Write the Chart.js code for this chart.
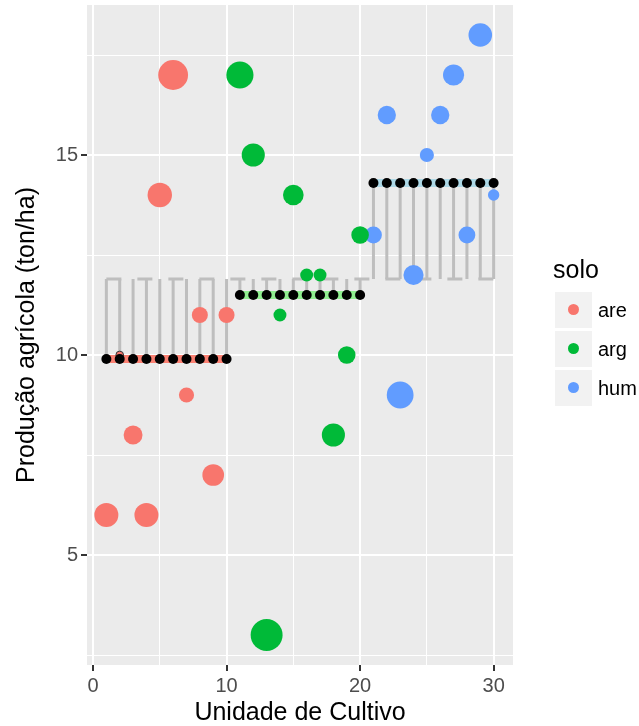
<!DOCTYPE html>
<html>
<head>
<meta charset="utf-8">
<script src="https://cdn.jsdelivr.net/npm/chart.js@4.4.1/dist/chart.umd.min.js"></script>
<style>
  html, body { margin: 0; padding: 0; background: #fff; }
  #wrap { position: relative; width: 639px; height: 726px; font-family: "Liberation Sans", Arial, sans-serif; }
  #legend { position: absolute; left: 553px; top: 254px; }
  #legend .title { font-size: 25px; color: #000; height: 38px; line-height: 30px; }
  #legend .row { position: relative; height: 36px; margin-bottom: 3px; }
  #legend .key { position: absolute; left: 2px; top: 0; width: 37px; height: 36px; background: #F2F2F2; }
  #legend .dot { position: absolute; left: 13px; top: 12px; width: 11px; height: 11px; border-radius: 50%; }
  #legend .lab { position: absolute; left: 45px; top: 0; line-height: 36px; font-size: 20px; color: #000; }
</style>
</head>
<body>
<div id="wrap">
  <canvas id="c" width="639" height="726"></canvas>
  <div id="legend"></div>
</div>
<script>
// ---- data ----
const unidade = [1,2,3,4,5,6,7,8,9,10,11,12,13,14,15,16,17,18,19,20,21,22,23,24,25,26,27,28,29,30];
const solo = ['are','are','are','are','are','are','are','are','are','are',
              'arg','arg','arg','arg','arg','arg','arg','arg','arg','arg',
              'hum','hum','hum','hum','hum','hum','hum','hum','hum','hum'];
const producao = [6,10,8,6,14,17,9,11,7,11,
                  17,15,3,11,14,12,12,8,10,13,
                  13,16,9,12,15,16,17,13,18,14];
const niveis = ['are','arg','hum'];
const cores = ['#F8766D','#00BA38','#619CFF'];
const coresFaixa = ['#FA8072','#90EE90','#ADD8E6'];
const xTicks = [0,10,20,30];
const yTicks = [5,10,15];
const xLabel = 'Unidade de Cultivo';
const yLabel = 'Produção agrícola (ton/ha)';
const legendTitle = 'solo';

// ---- derived ----
const mediaGrupo = {};
niveis.forEach(n => {
  const v = producao.filter((_, i) => solo[i] === n);
  mediaGrupo[n] = v.reduce((a, b) => a + b, 0) / v.length;
});
const mediaGeral = producao.reduce((a, b) => a + b, 0) / producao.length;
const desvios = producao.map((y, i) => Math.abs(y - mediaGrupo[solo[i]]));
const dMin = Math.min(...desvios), dMax = Math.max(...desvios);
function raio(d) {
  const s = 1 + 5 * Math.sqrt((d - dMin) / (dMax - dMin));
  return 1.4 + 2.43 * s;
}
const minor = (arr) => {
  const out = [];
  const step = arr[1] - arr[0];
  for (let i = 0; i < arr.length; i++) {
    out.push(arr[i]);
    if (i < arr.length - 1) out.push(arr[i] + step / 2);
  }
  out.unshift(arr[0] - step / 2);
  out.push(arr[arr.length - 1] + step / 2);
  return out;
};
const xAll = minor(xTicks), yAll = minor(yTicks);

const datasets = [];
// mean points (top)
datasets.push({
  type: 'scatter',
  data: unidade.map((x, i) => ({ x, y: mediaGrupo[solo[i]] })),
  pointRadius: 5, pointHoverRadius: 5,
  backgroundColor: '#000', borderColor: '#000', borderWidth: 0,
  order: 0
});
// data points by group
niveis.forEach((n, k) => {
  const idx = unidade.map((_, i) => i).filter(i => solo[i] === n);
  datasets.push({
    type: 'scatter',
    data: idx.map(i => ({ x: unidade[i], y: producao[i], d: desvios[i] })),
    pointRadius: ctx => raio(ctx.raw.d),
    pointHoverRadius: ctx => raio(ctx.raw.d),
    backgroundColor: cores[k],
    borderColor: ctx => (ctx.raw && ctx.raw.d === dMin) ? '#333' : cores[k],
    borderWidth: ctx => (ctx.raw && ctx.raw.d === dMin) ? 1 : 0,
    order: 1 + k
  });
});
// colored mean bands
niveis.forEach((n, k) => {
  const xs = unidade.filter((_, i) => solo[i] === n);
  datasets.push({
    type: 'line', showLine: true,
    data: [{ x: Math.min(...xs), y: mediaGrupo[n] }, { x: Math.max(...xs), y: mediaGrupo[n] }],
    borderColor: coresFaixa[k], borderWidth: 8, pointRadius: 0, borderCapStyle: 'butt',
    order: 4
  });
});
// dashed overall mean
datasets.push({
  type: 'line', showLine: true,
  data: [{ x: Math.min(...unidade), y: mediaGeral }, { x: Math.max(...unidade), y: mediaGeral }],
  borderColor: '#BEBEBE', borderWidth: 3, borderDash: [15, 16], pointRadius: 0, borderCapStyle: 'butt',
  order: 7
});
// vertical segments group mean -> overall mean
const seg = [];
unidade.forEach((x, i) => {
  seg.push({ x, y: mediaGrupo[solo[i]] });
  seg.push({ x, y: mediaGeral });
  seg.push({ x, y: null });
});
datasets.push({
  type: 'line', showLine: true, spanGaps: false,
  data: seg,
  borderColor: '#BEBEBE', borderWidth: 3, pointRadius: 0, borderCapStyle: 'butt',
  order: 8
});

const bgPlugin = {
  id: 'bg',
  beforeDraw(chart) {
    const { ctx, chartArea: a } = chart;
    ctx.save();
    ctx.fillStyle = '#fff';
    ctx.fillRect(0, 0, chart.width, chart.height);
    ctx.fillStyle = '#EBEBEB';
    ctx.fillRect(a.left, a.top, a.right - a.left, a.bottom - a.top);
    ctx.restore();
  }
};

const FONT = '"Liberation Sans", Arial, sans-serif';
function axisCommon(all, major, titleText, titlePad, tickLH) {
  return {
    type: 'linear',
    afterBuildTicks: s => { s.ticks = all.map(v => ({ value: v })); },
    grid: {
      color: '#FFFFFF',
      lineWidth: ctx => (ctx.tick && major.includes(ctx.tick.value)) ? 2 : 1,
      tickColor: ctx => (ctx.tick && major.includes(ctx.tick.value)) ? '#333333' : 'rgba(0,0,0,0)',
      tickWidth: 2,
      tickLength: 6,
      drawTicks: true
    },
    border: { display: false },
    ticks: {
      autoSkip: false, maxRotation: 0, minRotation: 0,
      padding: 3,
      color: '#4D4D4D',
      font: { family: FONT, size: 20, lineHeight: tickLH },
      callback: v => major.includes(v) ? String(v) : ''
    },
    title: {
      display: true, text: titleText, color: '#000',
      font: { family: FONT, size: 25, lineHeight: 1.0 },
      padding: titlePad
    }
  };
}

const xScale = axisCommon(xAll, xTicks, xLabel, { top: 0, bottom: 0 }, 1.2);
xScale.min = -0.45; xScale.max = 31.45;
xScale.afterFit = s => { s.height = 61; };
const yScale = axisCommon(yAll, yTicks, yLabel, { top: 15, bottom: 0 }, 0.2);
yScale.min = 2.25; yScale.max = 18.75;
yScale.afterFit = s => { s.width = 87; s.paddingTop = 0; s.paddingBottom = 0; };

new Chart(document.getElementById('c'), {
  type: 'scatter',
  data: { datasets },
  options: {
    responsive: false,
    animation: false,
    events: [],
    layout: { autoPadding: false, padding: { top: 5, right: 126, left: 0, bottom: 0 } },
    plugins: { legend: { display: false }, tooltip: { enabled: false } },
    scales: { x: xScale, y: yScale }
  },
  plugins: [bgPlugin]
});

// legend
const lg = document.getElementById('legend');
let html = '<div class="title">' + legendTitle + '</div>';
niveis.forEach((n, k) => {
  html += '<div class="row"><div class="key"><div class="dot" style="background:' + cores[k] + '"></div></div><div class="lab">' + n + '</div></div>';
});
lg.innerHTML = html;
</script>
</body>
</html>
